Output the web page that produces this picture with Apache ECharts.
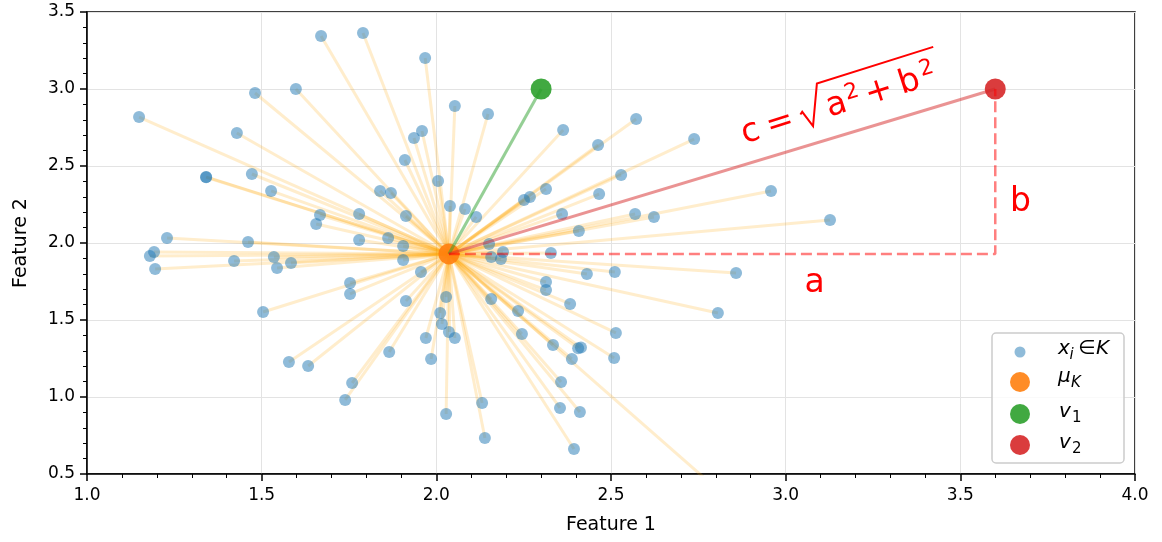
<!DOCTYPE html>
<html>
<head>
<meta charset="utf-8">
<script src="https://cdn.jsdelivr.net/npm/echarts@6/dist/echarts.min.js"></script>
<style>
  html, body { margin: 0; padding: 0; background: #fff; }
  #chart { width: 1162px; height: 542px; }
</style>
</head>
<body>
<div id="chart"></div>
<script>
// Cluster members x_i in K (feature 1, feature 2)
const pointsX = [1.149,1.670,1.790,1.481,1.598,1.968,1.429,1.472,1.341,1.341,
                 1.527,1.667,1.656,1.779,1.779,1.461,1.229,1.192,1.180,1.195,
                 1.421,1.535,1.544,1.584,1.504,1.578,1.633,1.753,1.753,1.759,
                 1.739,1.839,1.870,1.910,1.913,1.862,1.905,1.905,2.053,2.148,
                 1.959,1.936,2.005,2.039,2.082,2.114,2.363,2.463,2.572,2.314,
                 2.251,2.268,2.529,2.466,2.360,2.408,2.569,2.623,2.738,2.958,
                 3.127,1.956,1.913,2.028,2.011,2.016,2.036,2.053,1.970,1.865,
                 2.151,2.157,2.191,2.185,2.328,2.314,2.314,2.383,2.157,2.234,
                 2.245,2.334,2.406,2.414,2.431,2.511,2.514,2.509,2.388,2.357,
                 2.354,2.411,2.394,2.131,2.139,2.028,1.985,2.858,2.806,2.900];
const pointsY = [2.818,3.344,3.364,2.974,3.000,3.201,2.714,2.448,2.429,2.427,
                 2.338,2.182,2.123,2.188,2.019,2.006,2.032,1.942,1.916,1.831,
                 1.883,1.909,1.838,1.870,1.552,1.227,1.201,1.740,1.669,1.091,
                 0.981,2.338,2.325,2.539,2.175,2.032,1.981,1.890,2.890,2.838,
                 2.727,2.682,2.403,2.240,2.221,2.169,2.734,2.636,2.805,2.351,
                 2.279,2.299,2.442,2.318,2.188,2.078,2.188,2.169,2.675,2.338,
                 2.149,1.812,1.623,1.649,1.545,1.474,1.422,1.383,1.383,1.292,
                 1.994,1.909,1.942,1.896,1.935,1.747,1.695,1.604,1.636,1.558,
                 1.409,1.338,1.316,1.322,1.799,1.812,1.416,1.253,1.247,1.097,
                 0.929,0.903,0.662,0.961,0.734,0.890,1.247,1.805,1.545,0.210];

// Cluster centroid and the two query vectors
const mu = [2.036, 1.929];
const v1 = [2.3, 3.0];
const v2 = [3.6, 3.0];

// Axis ticks
const xTicks = [1.0, 1.5, 2.0, 2.5, 3.0, 3.5, 4.0];
const yTicks = [0.5, 1.0, 1.5, 2.0, 2.5, 3.0, 3.5];

// Annotation anchors (data coordinates)
const formulaAnchor = [2.885, 2.627];
const labelA = [3.0825, 1.66];
const labelB = [3.672, 2.187];

const FONT = '"DejaVu Sans", sans-serif';
const RED = '#ff0000';

const chart = echarts.init(document.getElementById('chart'));

function valueAxis(ticks, name, nameGap, labelMargin) {
  return {
    type: 'value',
    min: ticks[0],
    max: ticks[ticks.length - 1],
    interval: ticks[1] - ticks[0],
    name: name,
    nameLocation: 'middle',
    nameGap: nameGap,
    nameTextStyle: { fontFamily: FONT, fontSize: 19, color: '#000' },
    axisLine: { show: true, onZero: false, lineStyle: { color: '#000', width: 1.5 } },
    axisTick: { show: true, length: 7, lineStyle: { color: '#000', width: 1.5 } },
    minorTick: { show: true, splitNumber: 5, length: 4, lineStyle: { color: '#000', width: 1 } },
    splitLine: { show: true, lineStyle: { color: '#e3e3e3', width: 1 } },
    minorSplitLine: { show: false },
    axisLabel: { fontFamily: FONT, fontSize: 17, color: '#000', margin: labelMargin,
                 formatter: v => v.toFixed(1) }
  };
}

const memberPairs = pointsX.map((x, i) => [x, pointsY[i]]);

chart.setOption({
  animation: false,
  grid: { left: 87, right: 27, top: 12, bottom: 68, show: true,
          borderColor: '#000', borderWidth: 1.5, backgroundColor: 'transparent' },
  xAxis: valueAxis(xTicks, 'Feature 1', 42, 13),
  yAxis: valueAxis(yTicks, 'Feature 2', 56, 12),
  series: [
    { // spokes from the centroid to each member
      type: 'lines', coordinateSystem: 'cartesian2d', clip: true, silent: true, z: 1,
      lineStyle: { color: '#ffa500', opacity: 0.2, width: 3 },
      data: memberPairs.map(p => ({ coords: [mu, p] }))
    },
    {
      type: 'scatter', clip: true, silent: true, z: 2, symbolSize: 12,
      itemStyle: { color: '#1f77b4', opacity: 0.5 },
      data: memberPairs
    },
    {
      type: 'scatter', clip: true, silent: true, z: 3, symbolSize: 21,
      itemStyle: { color: '#ff7f0e', opacity: 0.9 }, data: [mu]
    },
    {
      type: 'scatter', clip: true, silent: true, z: 3, symbolSize: 21,
      itemStyle: { color: '#2ca02c', opacity: 0.9 }, data: [v1]
    },
    {
      type: 'scatter', clip: true, silent: true, z: 3, symbolSize: 21,
      itemStyle: { color: '#d62728', opacity: 0.9 }, data: [v2]
    },
    {
      type: 'lines', coordinateSystem: 'cartesian2d', clip: true, silent: true, z: 4,
      lineStyle: { color: '#2ca02c', opacity: 0.5, width: 3 },
      data: [{ coords: [mu, v1] }]
    },
    {
      type: 'lines', coordinateSystem: 'cartesian2d', clip: true, silent: true, z: 4,
      lineStyle: { color: '#d62728', opacity: 0.5, width: 3 },
      data: [{ coords: [mu, v2] }]
    },
    { // legs a and b of the right triangle
      type: 'line', silent: true, z: 4, symbol: 'none',
      lineStyle: { color: RED, opacity: 0.5, width: 2.5, type: [11, 5] },
      data: [mu, [v2[0], mu[1]], v2]
    }
  ]
});

// Text drawn glyph by glyph so that sub/superscripts sit on a shared baseline.
function glyphs(parts, ox, oy, color) {
  return parts.map(p => ({
    type: 'text', silent: true,
    x: ox + p.x,
    y: oy + (p.dy || 0) - 0.35 * p.size,
    style: {
      text: p.t, fill: color,
      font: (p.it ? 'italic ' : '') + p.size + 'px ' + FONT,
      align: 'left', verticalAlign: 'middle',
      textAlign: 'left', textVerticalAlign: 'middle'
    }
  }));
}

const toPx = p => chart.convertToPixel({ gridIndex: 0 }, p);

// c = sqrt(a^2 + b^2), laid out along the hypotenuse
const F = 33, S = 22;
const fo = toPx(formulaAnchor);
const formulaGroup = {
  type: 'group', x: fo[0], y: fo[1], rotation: 17.5 * Math.PI / 180, silent: true,
  children: glyphs([
    { t: 'c', x: 0, size: F },
    { t: '=', x: 26, size: F },
    { t: 'a', x: 89, size: F },
    { t: '2', x: 110.5, dy: -12, size: S },
    { t: '+', x: 130, size: F },
    { t: 'b', x: 165, size: F },
    { t: '2', x: 189, dy: -12, size: S }
  ], 0, 0, RED).concat([{
    type: 'polyline', silent: true,
    shape: { points: [[62, -14], [64.5, -16], [70.5, 1], [87, -38.5], [209, -38.5]] },
    style: { stroke: RED, lineWidth: 2, fill: null }
  }])
};

const pa = toPx(labelA), pb = toPx(labelB);
const sideLabels = [
  { type: 'text', silent: true, x: pa[0], y: pa[1] - 0.35 * F,
    style: { text: 'a', fill: RED, font: F + 'px ' + FONT, align: 'center', verticalAlign: 'middle',
             textAlign: 'center', textVerticalAlign: 'middle' } },
  { type: 'text', silent: true, x: pb[0], y: pb[1] - 0.35 * F,
    style: { text: 'b', fill: RED, font: F + 'px ' + FONT, align: 'center', verticalAlign: 'middle',
             textAlign: 'center', textVerticalAlign: 'middle' } }
];

// Legend box
const LX = 992, LY = 333, LW = 132, LH = 130, IX = 1020;
const legendItems = [
  { cy: 352, r: 5.5, color: '#1f77b4', op: 0.5, base: 356,
    label: [{ t: 'x', x: 0, size: 20, it: 1 }, { t: 'i', x: 11.5, dy: 4.5, size: 15, it: 1 },
            { t: '\u2208', x: 20, size: 20 }, { t: 'K', x: 38, size: 20, it: 1 }] },
  { cy: 382, r: 10, color: '#ff7f0e', op: 0.9, base: 384,
    label: [{ t: '\u03bc', x: 0, size: 20, it: 1 }, { t: 'K', x: 13, dy: 4.5, size: 15, it: 1 }] },
  { cy: 414, r: 10, color: '#2ca02c', op: 0.9, base: 419,
    label: [{ t: 'v', x: 1, size: 20, it: 1 }, { t: '1', x: 14, dy: 4.5, size: 15 }] },
  { cy: 445, r: 10, color: '#d62728', op: 0.9, base: 450,
    label: [{ t: 'v', x: 1, size: 20, it: 1 }, { t: '2', x: 14, dy: 4.5, size: 15 }] }
];

const legendEls = [{
  type: 'rect', silent: true, z: 10,
  shape: { x: LX, y: LY, width: LW, height: LH, r: 4 },
  style: { fill: 'rgba(255,255,255,0.8)', stroke: '#cccccc', lineWidth: 1.5 }
}];
legendItems.forEach(it => {
  legendEls.push({
    type: 'circle', silent: true, z: 11,
    shape: { cx: IX, cy: it.cy, r: it.r },
    style: { fill: it.color, opacity: it.op }
  });
  glyphs(it.label, 1058, it.base, '#000').forEach(g => { g.z = 11; legendEls.push(g); });
});

chart.setOption({ graphic: [formulaGroup].concat(sideLabels, legendEls) });
</script>
</body>
</html>
